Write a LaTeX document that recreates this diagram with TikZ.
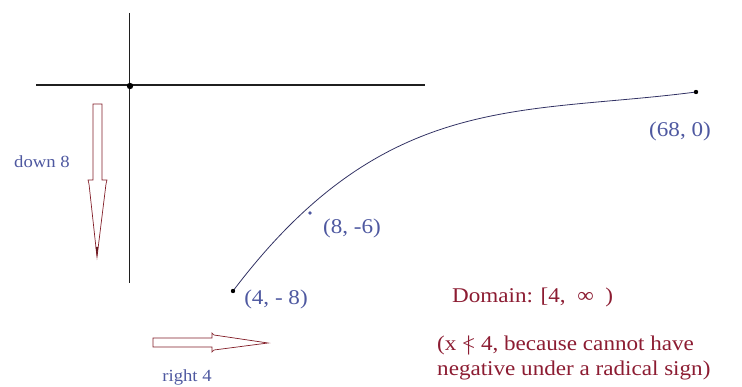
\documentclass[tikz,border=0pt]{standalone}
\usepackage{fontspec}
\setmainfont[FakeStretch=1.1]{Liberation Serif}
\definecolor{lblblue}{RGB}{78,88,160}
\definecolor{domred}{RGB}{140,28,50}
\definecolor{arrred}{RGB}{130,30,40}
\definecolor{curvecol}{RGB}{50,50,100}
\newcommand{\notless}{\ooalign{<\cr\hidewidth|\hidewidth\cr}}
\tikzset{
  axisline/.style={line width=1.3pt, draw=black!88},
  bigarrow/.style={draw=arrred, line width=0.7pt, fill=white, line join=miter},
  bluelbl/.style={text=lblblue, font=\fontsize{21}{24}\selectfont, inner sep=0pt},
  smalllbl/.style={text=lblblue, font=\fontsize{17}{20}\selectfont, inner sep=0pt},
  redlbl/.style={text=domred, font=\fontsize{21}{25}\selectfont, inner sep=0pt, anchor=west},
  curve/.style={draw=curvecol, line width=0.8pt},
}
\begin{document}
\begin{tikzpicture}[x=1pt,y=-1pt]
\useasboundingbox (0,0) rectangle (742,387);
% axes
\coordinate (vtop) at (129.5,13);
\coordinate (vbot) at (129.5,283);
\coordinate (hl) at (36,85);
\coordinate (hr) at (425,85);
\draw[axisline] (vtop) -- (vbot);
\draw[axisline] (hl) -- (hr);
\fill[black] (130,86) circle (3.2);
% down arrow
\draw[bigarrow] (93,104) -- (102,104) -- (102,180) -- (107,180) -- (106,184) -- (97,257) -- (89,184) -- (88,180) -- (93,180) -- cycle;
\fill[arrred!80!black] (95.7,247) -- (98.3,247) -- (97,257) -- cycle;
\node[smalllbl] (down) at (42,162) {down 8};
% right arrow
\draw[bigarrow] (153,338) -- (212,338) -- (212,333) -- (214,335) -- (268,343) -- (214,350) -- (212,352) -- (212,347) -- (153,347) -- cycle;
\node[smalllbl] (right) at (187,377) {right 4};
% curve
\coordinate (p0) at (233,291);
\coordinate (p3) at (696,92);
\draw[curve] (p0) .. controls (385,90) and (520,115) .. (p3);
\fill[black] (p0) circle (2.2);
\fill[black] (p3) circle (2.2);
\fill[lblblue] (310,213) circle (1.9);
\node[bluelbl] (l1) at (276,299) {(4, - 8)};
\node[bluelbl] (l2) at (352,228) {(8, -6)};
\node[bluelbl] (l3) at (680,131) {(68, 0)};
% domain text
\node[redlbl] (dom) at (452,297) {Domain: [4,\ \ ∞\ \ )};
\node[redlbl] (why1) at (437,345) {(x \notless\ 4, because cannot have};
\node[redlbl] (why2) at (437,370) {negative under a radical sign)};
\end{tikzpicture}
\end{document}
